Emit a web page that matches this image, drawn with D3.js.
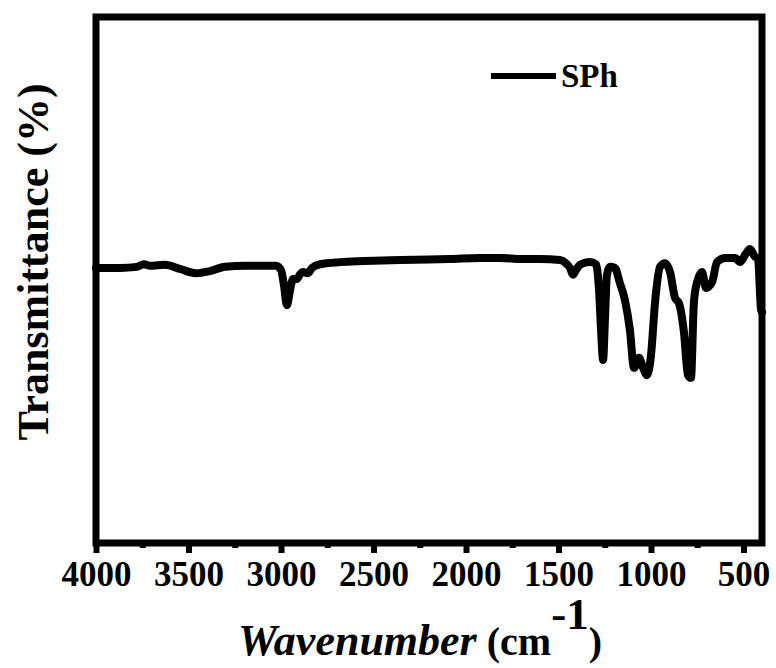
<!DOCTYPE html>
<html>
<head>
<meta charset="utf-8">
<script src="https://cdn.jsdelivr.net/npm/d3@7"></script>
<style>
  html, body { margin: 0; padding: 0; background: #fff; }
  svg { display: block; }
  text { font-family: "Liberation Serif", "Times New Roman", serif; font-weight: bold; fill: #000; }
</style>
</head>
<body>
<svg id="chart" width="776" height="668"></svg>
<script>
// FTIR spectrum of SPh: wavenumber (cm-1) and transmittance (%, arbitrary offset)
const wavenumber = [
  4000, 3870, 3780, 3741, 3708, 3627, 3546, 3460, 3384, 3303, 3189, 3087, 3027,
  3000, 2984, 2968, 2951, 2935, 2914, 2897, 2881, 2854, 2832, 2789, 2681, 2550,
  2357, 2200, 2087, 1924, 1816, 1700, 1600, 1492, 1460, 1438, 1422, 1405, 1384,
  1330, 1297, 1281, 1270, 1259, 1249, 1238, 1222, 1195, 1168, 1141, 1114, 1092,
  1065, 1043, 1022, 1000, 978, 951, 924, 897, 870, 849, 822, 800, 784, 768,
  751, 724, 703, 670, 643, 600, 546, 519, 486, 465, 438, 422, 405, 400
];
const transmittance = [
  52.3, 52.3, 52.5, 53.0, 52.7, 52.9, 52.1, 51.3, 51.7, 52.5, 52.7, 52.7, 52.7,
  51.9, 49.0, 45.2, 48.1, 50.2, 50.2, 51.1, 51.5, 51.3, 52.3, 53.0, 53.4, 53.6,
  53.8, 53.9, 54.0, 54.2, 54.2, 54.0, 54.0, 53.8, 53.2, 52.3, 51.0, 51.9, 52.9,
  53.4, 53.0, 48.1, 40.5, 34.8, 42.4, 51.0, 52.5, 52.3, 49.4, 46.2, 40.5, 33.3,
  35.2, 33.3, 31.9, 35.7, 45.8, 52.5, 53.2, 51.5, 46.6, 45.6, 40.1, 31.9, 31.4, 45.8,
  49.6, 51.5, 48.5, 49.6, 53.4, 54.2, 54.2, 53.4, 55.1, 55.9, 54.4, 54.2, 44.3, 43.9
];
const xTicks = [4000, 3500, 3000, 2500, 2000, 1500, 1000, 500];
const xMinorTicks = [3750, 3250, 2750, 2250, 1750, 1250, 750];
const seriesName = "SPh";

const svg = d3.select("#chart");
const plotLeft = 96, plotRight = 762, plotTop = 17, plotBottom = 543;

const x = d3.scaleLinear().domain([4000, 400]).range([plotLeft, plotRight]);
const y = d3.scaleLinear().domain([0, 100]).range([plotBottom, plotTop]);

const data = wavenumber.map((w, i) => ({ w, t: transmittance[i] }));

// spectrum trace
const line = d3.line().x(d => x(d.w)).y(d => y(d.t)).curve(d3.curveMonotoneX);
svg.append("path")
  .datum(data)
  .attr("d", line)
  .attr("fill", "none")
  .attr("stroke", "#000")
  .attr("stroke-width", 8)
  .attr("stroke-linejoin", "round")
  .attr("stroke-linecap", "round");

// plot frame
svg.append("rect")
  .attr("x", plotLeft).attr("y", plotTop)
  .attr("width", plotRight - plotLeft).attr("height", plotBottom - plotTop)
  .attr("fill", "none").attr("stroke", "#000").attr("stroke-width", 7);

// bottom axis: major ticks with labels, minor ticks between
const xAxis = d3.axisBottom(x).tickValues(xTicks).tickSize(10).tickPadding(8).tickFormat(d3.format("d"));
const gx = svg.append("g").attr("transform", `translate(0,${plotBottom})`).call(xAxis);
gx.select(".domain").remove();
gx.selectAll(".tick line").attr("stroke", "#000").attr("stroke-width", 6);
gx.selectAll(".tick text").attr("font-size", 35).attr("fill", "#000");

const xMinor = d3.axisBottom(x).tickValues(xMinorTicks).tickSize(5).tickFormat("");
const gm = svg.append("g").attr("transform", `translate(0,${plotBottom})`).call(xMinor);
gm.select(".domain").remove();
gm.selectAll(".tick line").attr("stroke", "#000").attr("stroke-width", 6);

// axis titles
const titleBase = 655;
const xt = svg.append("text").attr("x", 238).attr("y", titleBase);
xt.append("tspan").attr("font-size", 44).attr("font-style", "italic").text("Wavenumber");
xt.append("tspan").attr("font-size", 40).text(" (cm");
xt.append("tspan").attr("font-size", 45).attr("y", titleBase - 26).text("-1");
xt.append("tspan").attr("font-size", 40).attr("y", titleBase).text(")");

svg.append("text")
  .attr("transform", "translate(48,262) rotate(-90)")
  .attr("text-anchor", "middle")
  .attr("font-size", 44)
  .text("Transmittance (%)");

// legend
svg.append("line")
  .attr("x1", 491).attr("x2", 556).attr("y1", 76).attr("y2", 76)
  .attr("stroke", "#000").attr("stroke-width", 6);
svg.append("text").attr("x", 561).attr("y", 87).attr("font-size", 33).text(seriesName);
</script>
</body>
</html>
